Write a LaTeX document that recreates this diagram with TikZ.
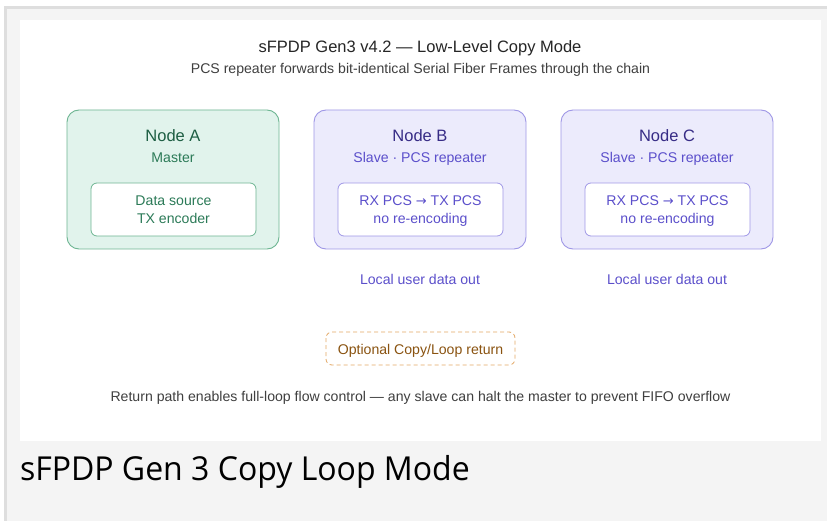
\documentclass[tikz,border=0pt]{standalone}
\usepackage{fontspec}
\setmainfont{Liberation Sans}
\newfontfamily\capfont{Open Sans}
\newfontfamily\symfont{DejaVu Sans}
\begin{document}
\begin{tikzpicture}[x=1pt,y=-1pt,
  every node/.style={inner sep=0pt, outer sep=0pt, anchor=base},
  outerbox/.style={draw, line width=0.9pt, rounded corners=12pt},
  greenbox/.style={outerbox, draw=greenline, fill=greenfill},
  purplebox/.style={outerbox, draw=purpleline, fill=purplefill},
  innerbox/.style={draw, line width=0.8pt, fill=white, rounded corners=6pt},
  nodetitle/.style={font=\fontsize{16.5}{19}\selectfont},
  nodesub/.style={font=\fontsize{14.1}{16}\selectfont},
]
\definecolor{bggray}{HTML}{F4F4F4}
\definecolor{edgegray}{HTML}{DEDEDE}
\definecolor{greenline}{HTML}{6DB592}
\definecolor{greenfill}{HTML}{E1F3EC}
\definecolor{greendark}{HTML}{1D5E43}
\definecolor{greentext}{HTML}{2B7A57}
\definecolor{purpleline}{HTML}{9F97E6}
\definecolor{purplefill}{HTML}{ECEBFC}
\definecolor{purpledark}{HTML}{372C86}
\definecolor{purpletext}{HTML}{5B4FCB}
\definecolor{orangeline}{HTML}{E3A865}
\definecolor{orangetext}{HTML}{8A5310}
\definecolor{graytext}{HTML}{3F3F3F}

\useasboundingbox (0,0) rectangle (827,521);
\fill[white] (0,0) rectangle (827,521);
\fill[edgegray] (4,6) rectangle (827,521);
\fill[bggray] (7,9) rectangle (827,521);
\fill[white] (20,20) rectangle (821,441);

% titles
\node[font=\fontsize{16.5}{18}\selectfont, text=black!85] (title) at (420,52.5) {sFPDP Gen3 v4.2 — Low-Level Copy Mode};
\node[font=\fontsize{14.1}{16}\selectfont, text=graytext] (subtitle) at (420.5,74) {PCS repeater forwards bit-identical Serial Fiber Frames through the chain};

% Node A
\draw[greenbox] (67,110) rectangle (279,249);
\node[nodetitle, text=greendark] (atitle) at (173,142) {Node A};
\node[nodesub, text=greentext] (asub) at (173,163) {Master};
\draw[innerbox, draw=greenline] (91,183) rectangle (256,236);
\node[nodesub, text=greentext] (ainner1) at (173.5,206) {Data source};
\node[nodesub, text=greentext] (ainner2) at (173.5,224) {TX encoder};

% Node B
\draw[purplebox] (314,110) rectangle (526,249);
\node[nodetitle, text=purpledark] (btitle) at (420,142) {Node B};
\node[nodesub, text=purpletext] (bsub) at (420,163) {Slave · PCS repeater};
\draw[innerbox, draw=purpleline] (338,183) rectangle (503,236);
\node[nodesub, text=purpletext] (binner1) at (420.5,206) {RX PCS {\symfont\fontsize{13}{14}\selectfont →} TX PCS};
\node[nodesub, text=purpletext] (binner2) at (420.5,224) {no re-encoding};
\node[nodesub, text=purpletext] (bout) at (420,284) {Local user data out};

% Node C
\draw[purplebox] (561,110) rectangle (773,249);
\node[nodetitle, text=purpledark] (ctitle) at (667,142) {Node C};
\node[nodesub, text=purpletext] (csub) at (667,163) {Slave · PCS repeater};
\draw[innerbox, draw=purpleline] (585,183) rectangle (750,236);
\node[nodesub, text=purpletext] (cinner1) at (667.5,206) {RX PCS {\symfont\fontsize{13}{14}\selectfont →} TX PCS};
\node[nodesub, text=purpletext] (cinner2) at (667.5,224) {no re-encoding};
\node[nodesub, text=purpletext] (cout) at (667,284) {Local user data out};

% optional loop return
\draw[draw=orangeline, line width=0.8pt, dash pattern=on 4pt off 3pt, rounded corners=6pt] (326,332) rectangle (515,365);
\node[nodesub, text=orangetext] (loop) at (420.5,354) {Optional Copy/Loop return};

\node[font=\fontsize{14.1}{16}\selectfont, text=graytext] (note) at (420.5,401) {Return path enables full-loop flow control — any slave can halt the master to prevent FIFO overflow};

% caption
\node[anchor=base west, font=\capfont\fontsize{33}{38}\selectfont, text=black] (caption) at (20,480) {\scalebox{0.97}[1]{sFPDP Gen 3 Copy Loop Mode}};
\end{tikzpicture}
\end{document}
